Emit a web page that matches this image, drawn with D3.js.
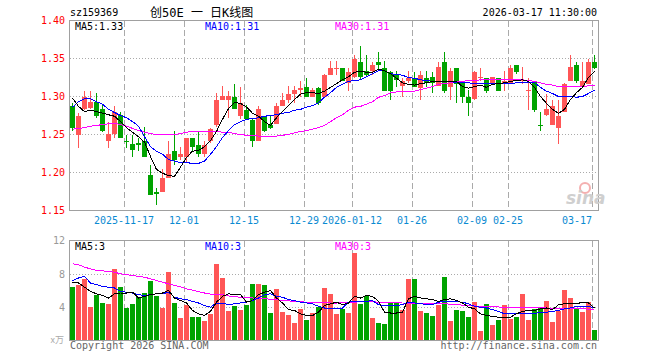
<!DOCTYPE html>
<html><head><meta charset="utf-8">
<script src="https://cdn.jsdelivr.net/npm/d3@7"></script>
<style>
body{margin:0;background:#fff;}
svg{display:block;}
text{font-family:"DejaVu Sans Mono",monospace;font-size:10px;}
</style></head><body>
<svg id="c" width="660" height="360"></svg>
<script>
const dates=["2025-11-04","2025-11-05","2025-11-06","2025-11-07","2025-11-10","2025-11-11","2025-11-12","2025-11-13","2025-11-14","2025-11-17",
"2025-11-18","2025-11-19","2025-11-20","2025-11-21","2025-11-24","2025-11-25","2025-11-26","2025-11-27","2025-11-28","2025-12-01",
"2025-12-02","2025-12-03","2025-12-04","2025-12-05","2025-12-08","2025-12-09","2025-12-10","2025-12-11","2025-12-12","2025-12-15",
"2025-12-16","2025-12-17","2025-12-18","2025-12-19","2025-12-22","2025-12-23","2025-12-24","2025-12-25","2025-12-26","2025-12-29",
"2025-12-30","2025-12-31","2026-01-05","2026-01-06","2026-01-07","2026-01-08","2026-01-09","2026-01-12","2026-01-13","2026-01-14",
"2026-01-15","2026-01-16","2026-01-19","2026-01-20","2026-01-21","2026-01-22","2026-01-23","2026-01-26","2026-01-27","2026-01-28",
"2026-01-29","2026-01-30","2026-02-02","2026-02-03","2026-02-04","2026-02-05","2026-02-06","2026-02-09","2026-02-10","2026-02-11",
"2026-02-12","2026-02-13","2026-02-24","2026-02-25","2026-02-26","2026-02-27","2026-03-02","2026-03-03","2026-03-04","2026-03-05",
"2026-03-06","2026-03-09","2026-03-10","2026-03-11","2026-03-12","2026-03-13","2026-03-16","2026-03-17"];

const open=[1.288,1.250,1.283,1.285,1.293,1.284,1.242,1.251,1.276,1.241,
1.238,1.239,1.241,1.197,1.175,1.175,1.193,1.228,1.220,1.220,
1.245,1.236,1.224,1.241,1.262,1.295,1.295,1.300,1.275,1.282,
1.269,1.241,1.275,1.263,1.264,1.288,1.295,1.303,1.308,1.313,
1.300,1.311,1.299,1.328,1.337,1.338,1.318,1.326,1.345,1.334,
1.333,1.346,1.337,1.332,1.328,1.314,1.320,1.324,1.311,1.324,
1.326,1.314,1.346,1.313,1.337,1.321,1.299,1.297,1.324,1.324,
1.318,1.325,1.317,1.318,1.341,1.321,1.307,1.320,1.263,1.276,
1.263,1.258,1.280,1.320,1.341,1.313,1.317,1.346];
const high=[1.292,1.278,1.307,1.307,1.304,1.289,1.267,1.287,1.280,1.250,
1.250,1.246,1.260,1.210,1.180,1.204,1.241,1.254,1.233,1.245,
1.245,1.254,1.241,1.259,1.304,1.314,1.307,1.317,1.312,1.289,
1.271,1.287,1.275,1.274,1.291,1.305,1.314,1.314,1.320,1.325,
1.311,1.312,1.330,1.347,1.347,1.338,1.337,1.355,1.366,1.355,
1.345,1.358,1.347,1.333,1.333,1.325,1.333,1.332,1.333,1.333,
1.332,1.346,1.358,1.338,1.337,1.321,1.309,1.333,1.338,1.324,
1.326,1.325,1.333,1.341,1.341,1.339,1.324,1.320,1.280,1.303,
1.296,1.296,1.318,1.355,1.345,1.345,1.349,1.355];
const low=[1.254,1.232,1.282,1.283,1.272,1.253,1.232,1.246,1.245,1.232,
1.220,1.228,1.220,1.170,1.157,1.175,1.193,1.210,1.216,1.214,
1.228,1.220,1.220,1.239,1.260,1.295,1.272,1.283,1.270,1.270,
1.234,1.241,1.253,1.257,1.264,1.287,1.292,1.291,1.300,1.300,
1.299,1.289,1.299,1.328,1.328,1.320,1.307,1.325,1.322,1.326,
1.328,1.336,1.307,1.296,1.312,1.300,1.318,1.312,1.296,1.312,
1.305,1.314,1.305,1.296,1.291,1.292,1.274,1.296,1.320,1.305,
1.317,1.307,1.307,1.318,1.330,1.316,1.282,1.279,1.254,1.274,
1.262,1.237,1.280,1.320,1.318,1.313,1.317,1.336];
const close=[1.259,1.275,1.299,1.293,1.274,1.255,1.251,1.280,1.246,1.240,
1.229,1.236,1.220,1.171,1.172,1.193,1.224,1.216,1.224,1.245,
1.234,1.225,1.236,1.257,1.295,1.301,1.301,1.283,1.292,1.271,
1.241,1.284,1.254,1.259,1.288,1.296,1.303,1.308,1.311,1.300,
1.308,1.292,1.328,1.337,1.338,1.321,1.332,1.350,1.326,1.328,
1.342,1.341,1.307,1.307,1.322,1.321,1.324,1.313,1.328,1.318,
1.318,1.339,1.307,1.333,1.316,1.300,1.292,1.332,1.326,1.307,
1.326,1.307,1.320,1.337,1.332,1.322,1.309,1.282,1.262,1.284,
1.288,1.275,1.316,1.339,1.320,1.320,1.345,1.337];

const ma5=[1.298,1.287,1.280,1.282,1.280,1.278,1.276,1.274,1.267,1.259,
1.253,1.247,1.240,1.221,1.204,1.199,1.196,1.195,1.207,1.220,
1.228,1.229,1.234,1.242,1.254,1.270,1.284,1.292,1.291,1.286,
1.278,1.274,1.267,1.262,1.272,1.280,1.288,1.296,1.303,1.305,
1.305,1.304,1.307,1.312,1.317,1.322,1.326,1.332,1.333,1.332,
1.332,1.336,1.334,1.330,1.324,1.318,1.316,1.315,1.317,1.318,
1.320,1.320,1.320,1.320,1.320,1.313,1.311,1.313,1.315,1.312,
1.316,1.317,1.318,1.320,1.321,1.322,1.320,1.312,1.300,1.291,
1.283,1.278,1.283,1.296,1.305,1.312,1.325,1.333];
const ma10=[1.286,1.293,1.297,1.297,1.293,1.290,1.283,1.279,1.275,1.272,
1.267,1.261,1.247,1.234,1.228,1.224,1.217,1.215,1.213,1.213,
1.212,1.212,1.215,1.224,1.234,1.246,1.255,1.263,1.267,1.270,
1.271,1.272,1.274,1.275,1.276,1.278,1.279,1.282,1.283,1.286,
1.288,1.292,1.299,1.305,1.312,1.316,1.320,1.321,1.322,1.326,
1.330,1.334,1.334,1.330,1.329,1.328,1.325,1.324,1.322,1.321,
1.320,1.320,1.320,1.320,1.318,1.318,1.318,1.317,1.317,1.317,
1.317,1.317,1.317,1.317,1.318,1.318,1.318,1.318,1.312,1.307,
1.304,1.300,1.300,1.300,1.299,1.300,1.304,1.308];
const ma30=[1.257,1.258,1.259,1.261,1.262,1.263,1.264,1.265,1.263,1.261,
1.258,1.255,1.253,1.251,1.250,1.250,1.250,1.250,1.251,1.253,
1.254,1.254,1.254,1.254,1.254,1.253,1.253,1.251,1.250,1.249,
1.249,1.248,1.248,1.248,1.248,1.249,1.250,1.252,1.254,1.255,
1.257,1.259,1.262,1.267,1.272,1.276,1.282,1.286,1.287,1.290,
1.293,1.299,1.301,1.305,1.306,1.306,1.307,1.307,1.309,1.311,
1.313,1.316,1.317,1.318,1.320,1.320,1.321,1.321,1.322,1.322,
1.322,1.322,1.322,1.322,1.322,1.322,1.321,1.320,1.318,1.316,
1.315,1.313,1.313,1.313,1.313,1.313,1.314,1.315];

const volume=[6.48,6.72,7.4,4.08,5.48,4.56,4.4,8.6,6.48,3.96,
4.4,5.24,5.76,7.16,5.36,3.96,8.28,4.56,2.72,4.28,
2.84,2.84,2.36,3.24,9.24,7.52,3.56,4.2,3.68,4.28,
6.8,6.8,6.68,3.36,6.2,3.48,3.08,2.12,3.8,2.52,
3.32,4.04,6.36,5.64,3.24,3.76,3.36,10.56,4.4,5.4,
2.72,2.12,2.0,4.6,4.6,3.68,7.4,7.4,3.56,3.36,
2.96,4.28,7.68,2.36,3.68,3.56,2.88,4.64,1.2,4.4,
1.88,2.48,4.28,2.6,2.88,5.64,2.48,3.76,3.96,4.76,
2.28,3.56,6.08,5.12,3.96,3.48,4.6,1.28];
const vma5=[7.0,6.9,6.4,5.9,5.6,5.4,5.1,5.6,5.7,5.7,
5.8,5.1,5.3,5.5,5.6,5.7,6.0,5.1,4.8,4.5,
3.6,3.2,3.0,3.5,4.6,5.3,5.6,5.5,5.5,4.6,
4.8,5.5,5.8,6.0,5.1,4.5,3.7,3.6,3.2,3.0,
3.0,3.4,4.2,4.4,4.6,4.3,4.5,5.3,5.1,5.4,
5.3,4.7,3.4,3.3,3.3,3.4,5.0,5.3,5.1,5.0,
4.9,4.7,4.9,5.0,4.8,4.5,4.0,3.8,3.2,3.0,
2.9,2.8,2.8,2.8,3.2,3.5,3.6,3.6,3.8,3.9,
3.7,4.3,4.4,4.4,4.4,4.6,4.5,3.9];
const vma10=[7.2,7.5,7.7,6.9,6.7,6.5,6.4,6.3,5.9,5.8,
5.7,5.5,5.4,5.5,5.6,5.6,5.8,5.2,5.0,4.9,
4.7,4.5,4.2,4.0,4.5,4.5,4.3,4.4,4.5,4.6,
4.8,5.1,5.5,5.6,5.3,5.2,4.9,4.8,4.6,4.5,
4.4,4.1,3.9,3.9,3.9,3.9,4.6,4.7,4.7,4.7,
4.8,4.3,4.2,4.2,4.2,4.3,4.6,4.5,4.4,4.35,
4.3,4.6,4.7,4.7,4.65,4.6,4.4,4.1,4.0,3.9,
3.7,3.5,3.2,3.2,3.2,3.2,3.2,3.25,3.35,3.4,
3.5,3.6,3.8,3.9,4.1,4.1,4.1,3.9];
const vma30=[9.2,9.1,8.8,8.6,8.4,8.35,8.3,8.2,8.0,7.9,
7.8,7.7,7.6,7.4,7.2,7.0,6.8,6.6,6.45,6.2,
6.05,5.85,5.7,5.56,5.56,5.5,5.35,5.25,5.2,5.16,
5.1,5.08,5.0,4.96,4.9,4.8,4.75,4.7,4.65,4.6,
4.6,4.6,4.6,4.5,4.5,4.52,4.56,4.6,4.65,4.68,
4.65,4.6,4.56,4.55,4.52,4.5,4.48,4.48,4.48,4.48,
4.46,4.42,4.4,4.36,4.3,4.25,4.2,4.15,4.1,4.08,
4.05,4.02,4.0,4.0,3.98,3.97,3.96,3.94,3.92,3.9,
3.88,3.88,3.88,3.87,3.85,3.82,3.76,3.65];

const tickDates=["2025-11-17","2025-12-01","2025-12-15","2025-12-29","2026-01-12","2026-01-26","2026-02-09","2026-02-25","2026-03-17"];
const tickLabels=["2025-11-17","12-01","12-15","12-29","2026-01-12","01-26","02-09","02-25","03-17"];
const priceTicks=[1.15,1.20,1.25,1.30,1.35,1.40];
const volTicks=[4,8,12];

const UP="#ff5656", DOWN="#00a300";
const svg=d3.select("#c");
const L=70,R=598,PT=20.5,PB=210.5,VT=240.5,VB=340.5;
const x=d3.scaleBand().domain(dates).range([L,R]).padding(0);
const yP=d3.scaleLinear().domain([1.15,1.40]).range([PB,PT]);
const yV=d3.scaleLinear().domain([0,12]).range([VB,VT]);
const bw=x.bandwidth()-1;
const idx=d3.range(dates.length);

function grid(g,top,bottom,ys,yscale){
  g.selectAll(".vg").data(tickDates).join("line")
    .attr("x1",d=>x(d)+0.5).attr("x2",d=>x(d)+0.5).attr("y1",top).attr("y2",bottom)
    .attr("stroke","#aaa").attr("stroke-dasharray","6,3");
  g.selectAll(".hg").data(ys).join("line")
    .attr("x1",L).attr("x2",R).attr("y1",d=>Math.round(yscale(d))+0.5).attr("y2",d=>Math.round(yscale(d))+0.5)
    .attr("stroke","#aaa").attr("stroke-dasharray","1,2");
}
const gGrid=svg.append("g").attr("shape-rendering","crispEdges");
grid(gGrid.append("g"),PT,PB,[1.20,1.25,1.30,1.35],yP);
grid(gGrid.append("g"),VT,VB,[4,8],yV);

// candles
const gC=svg.append("g").attr("shape-rendering","crispEdges");
const col=i=>close[i]>open[i]?UP:DOWN;
gC.selectAll("line.w").data(idx).join("line").attr("class","w")
  .attr("x1",i=>x(dates[i])+2.5).attr("x2",i=>x(dates[i])+2.5)
  .attr("y1",i=>yP(high[i])).attr("y2",i=>yP(low[i])).attr("stroke",col);
gC.selectAll("rect.b").data(idx).join("rect").attr("class","b")
  .attr("x",i=>x(dates[i])).attr("width",bw)
  .attr("y",i=>yP(Math.max(open[i],close[i])))
  .attr("height",i=>Math.max(1,Math.abs(yP(open[i])-yP(close[i]))))
  .attr("fill",col);

// volume bars
gC.selectAll("rect.v").data(idx).join("rect").attr("class","v")
  .attr("x",i=>x(dates[i])).attr("width",bw)
  .attr("y",i=>yV(volume[i])).attr("height",i=>yV(0)-yV(volume[i]))
  .attr("fill",col);

// MA lines
function maLine(arr,ys,color){
  svg.append("path").datum(arr)
    .attr("d",d3.line().x((d,i)=>x(dates[i])+2.5).y(d=>ys(d)))
    .attr("fill","none").attr("stroke",color).attr("stroke-width",1)
    .attr("shape-rendering","crispEdges");
}
maLine(ma30,yP,"#ff00ff");maLine(ma10,yP,"#0000ff");maLine(ma5,yP,"#000");
maLine(vma30,yV,"#ff00ff");maLine(vma10,yV,"#0000ff");maLine(vma5,yV,"#000");

// borders
const gB=svg.append("g").attr("shape-rendering","crispEdges");
[[PT,PB],[VT,VB]].forEach(([t,b])=>{
  gB.append("rect").attr("x",L-0.5).attr("y",t).attr("width",R-L+1).attr("height",b-t)
    .attr("fill","none").attr("stroke","#a0a0a0").attr("stroke-width",1.5);
});

// axes
const ax=svg.append("g").attr("transform",`translate(${L},0)`)
  .call(d3.axisLeft(yP).tickValues(priceTicks).tickFormat(d3.format(".2f")).tickSize(0).tickPadding(5));
ax.select(".domain").remove();
ax.selectAll("text").attr("fill","#f00").style("font-size","10px").style("font-family","DejaVu Sans Mono");
const av=svg.append("g").attr("transform",`translate(${L},0)`)
  .call(d3.axisLeft(yV).tickValues(volTicks).tickFormat(d3.format("d")).tickSize(0).tickPadding(5));
av.select(".domain").remove();
av.selectAll("text").attr("fill","#999").style("font-size","10px").style("font-family","DejaVu Sans Mono");
const axb=svg.append("g").attr("transform",`translate(-3,${PB})`)
  .call(d3.axisBottom(x).tickValues(tickDates).tickFormat((d,i)=>tickLabels[i]).tickSize(0).tickPadding(6));
axb.select(".domain").remove();
axb.selectAll("text").attr("fill","#0a8ad2").style("font-size","10px").style("font-family","DejaVu Sans Mono");
axb.selectAll("text").filter((d,i)=>i===tickLabels.length-1).attr("text-anchor","end").attr("dx","0");

// titles
const T=(t,xx,yy,c,anchor,fs,ff)=>svg.append("text").text(t).attr("x",xx).attr("y",yy)
  .attr("fill",c).attr("text-anchor",anchor||"start").style("font-size",(fs||10)+"px")
  .style("font-family",ff||"DejaVu Sans Mono").style("white-space","pre");
T("sz159369",70,16,"#000");
T("创50E 一 日K线图",150,17,"#000","start",12,"'DejaVu Sans Mono','Noto Sans CJK SC'");
T("2026-03-17 11:30:00",597,16,"#000","end");
T("MA5:"+d3.format(".2f")(ma5[ma5.length-1]),75,30,"#000");
T("MA10:"+d3.format(".2f")(ma10[ma10.length-1]),205,30,"#0000ff");
T("MA30:"+d3.format(".2f")(ma30[ma30.length-1]),335,30,"#ff00ff");
T("MA5:"+Math.floor(vma5[vma5.length-1]),75,250,"#000");
T("MA10:"+Math.floor(vma10[vma10.length-1]),205,250,"#0000ff");
T("MA30:"+Math.floor(vma30[vma30.length-1]),335,250,"#ff00ff");
T("x万",64,343,"#aaa","end",9,"Noto Sans CJK SC");
T("Copyright 2026 SINA.COM",70,349,"#666");
T("http://finance.sina.com.cn",597,349,"#666","end");
// watermark
svg.append("circle").attr("cx",585).attr("cy",188).attr("r",5).attr("fill","none").attr("stroke","#f4b0b0").attr("stroke-width",2);
T("sina",566,204,"#cfcfcf","start",17,"DejaVu Sans").style("font-style","italic").style("font-weight","bold");
</script></body></html>
